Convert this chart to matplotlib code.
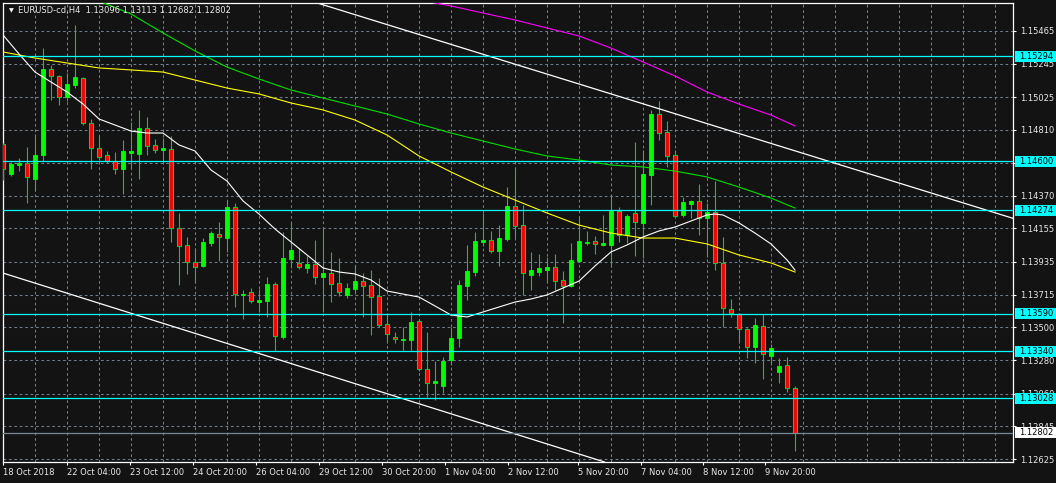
import matplotlib
matplotlib.use('Agg')
import matplotlib.pyplot as plt
import matplotlib.transforms as mtransforms
from matplotlib.patches import Rectangle
import numpy as np

# EURUSD H4 bars, oldest first (bar 0 is partly hidden behind the left border)
opens = [1.14714, 1.14515, 1.14575, 1.14588, 1.14482, 1.14641, 1.15211, 1.15165, 1.15026, 1.15105,
         1.15152, 1.14853, 1.14688, 1.14641, 1.14602, 1.14549, 1.14655, 1.14648, 1.14820, 1.14708,
         1.14674, 1.14681, 1.14158, 1.14045, 1.13932, 1.13906, 1.14058, 1.14118, 1.14091, 1.14297,
         1.13714, 1.13734, 1.13667, 1.13674, 1.13787, 1.13435, 1.13952, 1.13926, 1.13893, 1.13919,
         1.13833, 1.13859, 1.13793, 1.13714, 1.13753, 1.13806, 1.13780, 1.13707, 1.13521, 1.13435,
         1.13415, 1.13415, 1.13541, 1.13223, 1.13131, 1.13111, 1.13283, 1.13429, 1.13773, 1.13866,
         1.14065, 1.14078, 1.14005, 1.14085, 1.14303, 1.14177, 1.13846, 1.13866, 1.13879, 1.13899,
         1.13813, 1.13773, 1.13939, 1.14058, 1.14071, 1.14045, 1.14045, 1.14270, 1.14111, 1.14257,
         1.14191, 1.14509, 1.14913, 1.14794, 1.14641, 1.14244, 1.14317, 1.14337, 1.14224, 1.14264,
         1.13926, 1.13621, 1.13588, 1.13488, 1.13369, 1.13508, 1.13309, 1.13203, 1.13250, 1.13096]
highs = [1.14721, 1.14595, 1.14621, 1.14694, 1.14780, 1.15350, 1.15238, 1.15171, 1.15185, 1.15503,
         1.15158, 1.14880, 1.14774, 1.14668, 1.14661, 1.14741, 1.14860, 1.14940, 1.14893, 1.14747,
         1.14754, 1.14767, 1.14257, 1.14098, 1.14025, 1.14091, 1.14138, 1.14197, 1.14343, 1.14323,
         1.13747, 1.13760, 1.13753, 1.13833, 1.13800, 1.14131, 1.14197, 1.14025, 1.13972, 1.14078,
         1.14158, 1.13999, 1.13959, 1.13793, 1.13912, 1.13859, 1.13879, 1.13826, 1.13594, 1.13469,
         1.13502, 1.13601, 1.13548, 1.13469, 1.13276, 1.13303, 1.13502, 1.13813, 1.14045, 1.14131,
         1.14257, 1.14138, 1.14177, 1.14429, 1.14555, 1.14310, 1.13999, 1.13985, 1.13965, 1.13985,
         1.13873, 1.14058, 1.14237, 1.14138, 1.14105, 1.14244, 1.14376, 1.14297, 1.14250, 1.14727,
         1.14674, 1.14940, 1.14999, 1.14867, 1.14674, 1.14363, 1.14343, 1.14449, 1.14323, 1.14469,
         1.14098, 1.13687, 1.13594, 1.13495, 1.13561, 1.13588, 1.13389, 1.13296, 1.13303, 1.13113]
lows = [1.14476, 1.14502, 1.14535, 1.14323, 1.14403, 1.14602, 1.15006, 1.14973, 1.14999, 1.15085,
        1.14840, 1.14549, 1.14608, 1.14588, 1.14515, 1.14383, 1.14549, 1.14482, 1.14641, 1.14655,
        1.14595, 1.14065, 1.13780, 1.13853, 1.13800, 1.13899, 1.14038, 1.13939, 1.13999, 1.13634,
        1.13555, 1.13661, 1.13601, 1.13568, 1.13343, 1.13422, 1.13893, 1.13886, 1.13859, 1.13787,
        1.13601, 1.13667, 1.13707, 1.13694, 1.13727, 1.13568, 1.13449, 1.13502, 1.13396, 1.13396,
        1.13349, 1.13349, 1.13210, 1.13038, 1.13018, 1.13064, 1.13250, 1.13369, 1.13681, 1.13840,
        1.14038, 1.13992, 1.13906, 1.14071, 1.14091, 1.13714, 1.13747, 1.13840, 1.13806, 1.13747,
        1.13528, 1.13767, 1.13932, 1.14045, 1.13985, 1.14038, 1.13899, 1.14065, 1.14058, 1.13972,
        1.13959, 1.14310, 1.14741, 1.14562, 1.14231, 1.14231, 1.14224, 1.14111, 1.13965, 1.13879,
        1.13502, 1.13568, 1.13396, 1.13296, 1.13263, 1.13157, 1.13250, 1.13131, 1.13071, 1.12682]
closes = [1.14549, 1.14582, 1.14588, 1.14496, 1.14641, 1.15211, 1.15165, 1.15026, 1.15112, 1.15158,
          1.14853, 1.14688, 1.14628, 1.14602, 1.14549, 1.14668, 1.14668, 1.14820, 1.14701, 1.14674,
          1.14688, 1.14158, 1.14038, 1.13932, 1.13899, 1.14065, 1.14124, 1.14098, 1.14297, 1.13720,
          1.13720, 1.13674, 1.13681, 1.13787, 1.13442, 1.13959, 1.14012, 1.13899, 1.13919, 1.13833,
          1.13859, 1.13787, 1.13734, 1.13760, 1.13806, 1.13773, 1.13700, 1.13515, 1.13455, 1.13422,
          1.13422, 1.13535, 1.13223, 1.13131, 1.13144, 1.13276, 1.13429, 1.13780, 1.13873, 1.14071,
          1.14078, 1.14005, 1.14091, 1.14303, 1.14171, 1.13859, 1.13879, 1.13893, 1.13899, 1.13806,
          1.13773, 1.13946, 1.14071, 1.14065, 1.14052, 1.14058, 1.14270, 1.14111, 1.14237, 1.14197,
          1.14515, 1.14913, 1.14787, 1.14635, 1.14237, 1.14330, 1.14337, 1.14224, 1.14264, 1.13926,
          1.13628, 1.13594, 1.13488, 1.13369, 1.13515, 1.13323, 1.13362, 1.13243, 1.13097, 1.12802]

# moving averages at some bars
white_idx = [0, 2, 4, 6, 8, 10, 12, 14, 16, 18, 20, 22, 24, 26, 28, 30, 32, 34, 36, 38, 40, 42, 44, 46,
             48, 50, 52, 54, 56, 58, 60, 62, 64, 66, 68, 70, 72, 74, 76, 78, 80, 82, 84, 86, 88, 89, 90,
             92, 94, 96, 98, 99]
white_val = [1.15437, 1.15311, 1.15191, 1.15125, 1.15059, 1.14979, 1.14880, 1.14840, 1.14800, 1.14787,
             1.14787, 1.14708, 1.14668, 1.14542, 1.14469, 1.14337, 1.14250, 1.14151, 1.14065, 1.13979,
             1.13893, 1.13866, 1.13853, 1.13813, 1.13740, 1.13720, 1.13700, 1.13641, 1.13581, 1.13568,
             1.13601, 1.13634, 1.13667, 1.13687, 1.13714, 1.13760, 1.13806, 1.13906, 1.13999, 1.14045,
             1.14098, 1.14138, 1.14164, 1.14204, 1.14244, 1.14250, 1.14244, 1.14191, 1.14124, 1.14052,
             1.13946, 1.13879]
yellow_idx = [0, 4, 8, 12, 16, 20, 24, 28, 32, 36, 40, 44, 48, 52, 56, 60, 64, 68, 72, 76, 80, 84, 88,
              92, 96, 99]
yellow_val = [1.15324, 1.15284, 1.15251, 1.15218, 1.15205, 1.15191, 1.15138, 1.15085, 1.15046, 1.14986,
              1.14940, 1.14873, 1.14774, 1.14635, 1.14529, 1.14429, 1.14343, 1.14257, 1.14177, 1.14124,
              1.14091, 1.14091, 1.14052, 1.13979, 1.13926, 1.13866]
green_idx = [11, 12, 16, 20, 24, 28, 32, 36, 40, 44, 48, 52, 56, 60, 64, 68, 72, 76, 80, 84, 88, 92, 96, 99]
green_val = [1.15688, 1.15662, 1.15576, 1.15450, 1.15331, 1.15224, 1.15145, 1.15072, 1.15019, 1.14966,
             1.14913, 1.14847, 1.14787, 1.14734, 1.14681, 1.14635, 1.14608, 1.14575, 1.14562, 1.14535,
             1.14496, 1.14429, 1.14356, 1.14290]
magenta_idx = [52, 56, 60, 64, 68, 72, 76, 80, 84, 88, 92, 96, 99]
magenta_val = [1.15668, 1.15629, 1.15582, 1.15536, 1.15483, 1.15430, 1.15350, 1.15258, 1.15165, 1.15059,
               1.14979, 1.14906, 1.14834]

# trend channel, two points on each line (bar, price)
upper_line = [(74, 1.15079), (94.6, 1.14741)]
lower_line = [(0, 1.13859), (69.6, 1.12700)]

levels = [1.15294, 1.14600, 1.14274, 1.13590, 1.13340, 1.13028]
bid = 1.12802

price_ticks = [1.15465, 1.15245, 1.15025, 1.14810, 1.14590, 1.14370, 1.14155, 1.13935,
               1.13715, 1.13500, 1.13280, 1.13060, 1.12845, 1.12625]
# 1.14590 sits fully under the 1.14600 level box, so its label stays blank
price_labels = ['1.15465', '1.15245', '1.15025', '1.14810', '', '1.14370', '1.14155', '1.13935',
                '1.13715', '1.13500', '1.13280', '1.13060', '1.12845', '1.12625']
time_pos = [0, 7.96, 15.9, 23.75, 31.6, 39.5, 47.4, 55.25, 63.1, 71.9, 79.75, 87.5, 95.25]
time_labels = ['18 Oct 2018', '22 Oct 04:00', '23 Oct 12:00', '24 Oct 20:00', '26 Oct 04:00',
               '29 Oct 12:00', '30 Oct 20:00', '1 Nov 04:00', '2 Nov 12:00', '5 Nov 20:00',
               '7 Nov 04:00', '8 Nov 12:00', '9 Nov 20:00']

bg = '#131313'
wick = '#32b432'
txt = '#e8e8e8'
grid_c = '#6f7d8c'

W, H = 1056, 483
fig = plt.figure(figsize=(W / 100, H / 100), dpi=100, facecolor=bg)
ax = fig.add_axes([3 / W, 21 / H, 1010 / W, 459 / H], facecolor=bg)

xmin, xmax = 0, 126.25
ymin, ymax = 1.12607, 1.156485

# dashed grid
ax.hlines(price_ticks, xmin, xmax, colors=grid_c, linestyles=(0, (2.6, 2.6)), linewidth=0.75, zorder=1)
ax.vlines(np.arange(4, 125, 4), ymin, ymax, colors=grid_c, linestyles=(0, (2.6, 2.6)), linewidth=0.75, zorder=1)

# candles
x = np.arange(len(opens))
o = np.array(opens)
c = np.array(closes)
up = c >= o
ax.vlines(x, lows, highs, colors=wick, linewidth=0.8, zorder=3)
body_lo = np.minimum(o, c)
body_h = np.maximum(np.abs(c - o), 0.00004)
ax.bar(x[up], body_h[up], bottom=body_lo[up], width=0.52, color='#00ff00',
       edgecolor='#00ff00', linewidth=0.6, zorder=4)
ax.bar(x[~up], body_h[~up], bottom=body_lo[~up], width=0.52, color='#ff0000',
       edgecolor=wick, linewidth=0.8, zorder=4)

# moving averages
ax.plot(magenta_idx, magenta_val, color='#ff00ff', linewidth=0.8, zorder=5)
ax.plot(green_idx, green_val, color='#00e000', linewidth=0.8, zorder=5)
ax.plot(yellow_idx, yellow_val, color='#ffff00', linewidth=0.8, zorder=5)
ax.plot(white_idx, white_val, color='white', linewidth=0.8, zorder=5)

# channel
ax.axline(upper_line[0], upper_line[1], color='white', linewidth=0.9, zorder=6)
ax.axline(lower_line[0], lower_line[1], color='white', linewidth=0.9, zorder=6)

# horizontal levels
for lv in levels:
    ax.axhline(lv, color='#00ffff', linewidth=0.9, zorder=6)
ax.axhline(bid, color='#778899', linewidth=0.9, zorder=6)

ax.set_xlim(xmin, xmax)
ax.set_ylim(ymin, ymax)

for s in ax.spines.values():
    s.set_color('white')
    s.set_linewidth(0.9)

ax.yaxis.tick_right()
ax.set_yticks(price_ticks)
ax.set_yticklabels(price_labels)
ax.set_xticks(time_pos)
ax.set_xticklabels(time_labels)
for lab in ax.get_xticklabels():
    lab.set_horizontalalignment('left')
ax.tick_params(axis='both', colors='white', labelcolor=txt, labelsize=6, length=2.5, width=0.8)
ax.tick_params(axis='y', pad=2.5)
ax.tick_params(axis='x', pad=2)

# price labels for the level lines
blend = mtransforms.blended_transform_factory(fig.transFigure, ax.transData)
box_h = 11 * (ymax - ymin) / 459
for lv, fc in [(v, '#00ffff') for v in levels] + [(bid, 'white')]:
    fig.add_artist(Rectangle((1015 / W, lv - box_h / 2), 41 / W, box_h, transform=blend,
                             facecolor=fc, edgecolor='none', zorder=10))
    fig.text(1019 / W, lv, f'{lv:.5f}', transform=blend, color='black', fontsize=6,
             va='center', ha='left', zorder=11)

# chart header
ax.text(6 / 1010, 1 - 8 / 459, '\u25bc', transform=ax.transAxes, color='white',
        fontsize=4.5, va='center', ha='left', zorder=12)
ax.text(15 / 1010, 1 - 8 / 459, 'EURUSD-cd,H4  1.13096 1.13113 1.12682 1.12802',
        transform=ax.transAxes, color=txt, fontsize=6, va='center', ha='left', zorder=12)

fig.savefig('out.png', dpi=100, facecolor=bg)
